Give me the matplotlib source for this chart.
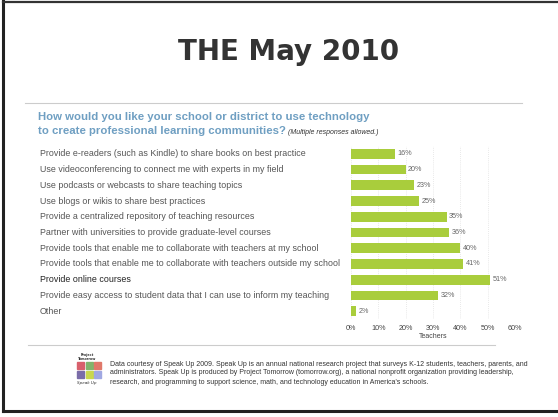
import matplotlib
matplotlib.use('Agg')
import matplotlib.pyplot as plt
import matplotlib.transforms as mtransforms
from matplotlib.patches import Rectangle
from matplotlib.lines import Line2D

# survey answers, top to bottom as on the slide
categories = [
    'Provide e-readers (such as Kindle) to share books on best practice',
    'Use videoconferencing to connect me with experts in my field',
    'Use podcasts or webcasts to share teaching topics',
    'Use blogs or wikis to share best practices',
    'Provide a centralized repository of teaching resources',
    'Partner with universities to provide graduate-level courses',
    'Provide tools that enable me to collaborate with teachers at my school',
    'Provide tools that enable me to collaborate with teachers outside my school',
    'Provide online courses',
    'Provide easy access to student data that I can use to inform my teaching',
    'Other',
]
teachers = [16, 20, 23, 25, 35, 36, 40, 41, 51, 32, 2]
xticks = [0, 10, 20, 30, 40, 50, 60]

W, H = 558, 417
fig = plt.figure(figsize=(W / 100, H / 100), dpi=100)
fig.patch.set_facecolor('white')


def fx(x):
    return x / W


def fy(y):
    return 1 - y / H


# slide frame (scanned look)
fig.add_artist(Line2D([fx(3), fx(3)], [fy(1), fy(411)], color='#222222', lw=2.2))
fig.add_artist(Line2D([fx(3), fx(558)], [fy(1.5), fy(1.5)], color='#333333', lw=1.6))
fig.add_artist(Line2D([fx(3), fx(558)], [fy(411), fy(411)], color='#222222', lw=2.2))

# title
fig.text(fx(289), fy(52), 'THE May 2010', ha='center', va='center',
         fontsize=20, fontweight='bold', color='#333333', family='DejaVu Sans')

# separator lines
fig.add_artist(Line2D([fx(25), fx(522)], [fy(103), fy(103)], color='#cccccc', lw=0.8))
fig.add_artist(Line2D([fx(28), fx(495)], [fy(345), fy(345)], color='#cccccc', lw=0.8))

# question
qcol = '#6f9fc2'
fig.text(fx(38), fy(117), 'How would you like your school or district to use technology',
         ha='left', va='center', fontsize=8.2, fontweight='bold', color=qcol,
         family='Liberation Sans')
fig.text(fx(38), fy(131), 'to create professional learning communities?',
         ha='left', va='center', fontsize=8.2, fontweight='bold', color=qcol,
         family='Liberation Sans')
fig.text(fx(288), fy(132), '(Multiple responses allowed.)', ha='left', va='center',
         fontsize=5, style='italic', color='#333333', family='Liberation Sans')

# bar chart
ax = fig.add_axes([fx(351), fy(319), fx(515) - fx(351), fy(146) - fy(319)])
ypos = list(range(len(categories)))
ax.barh(ypos, teachers, height=0.62, color='#a9cd3c', zorder=3)
ax.set_xlim(0, 60)
ax.set_ylim(len(categories) - 0.5, -0.5)
ax.set_yticks([])
ax.set_xticks(xticks)
ax.set_xticklabels([f'{v}%' for v in xticks], fontsize=5.2, color='#444444',
                   family='Liberation Sans')
ax.tick_params(axis='x', length=0, pad=4)
ax.grid(axis='x', color='#e2e2e2', lw=0.6, ls=(0, (1, 1.5)), zorder=0)
for s in ax.spines.values():
    s.set_visible(False)
ax.set_xlabel('Teachers', fontsize=5, color='#444444', labelpad=1,
              family='Liberation Sans')

for yv, v in zip(ypos, teachers):
    ax.text(v + 0.9, yv, f'{v}%', va='center', ha='left', fontsize=5.2,
            color='#666666', family='Liberation Sans')

trans = mtransforms.blended_transform_factory(fig.transFigure, ax.transData)
for yv, c in zip(ypos, categories):
    col = '#222222' if c == 'Provide online courses' else '#555555'
    ax.text(fx(40), yv, c, transform=trans, ha='left', va='center',
            fontsize=6.4, color=col, family='Liberation Sans', clip_on=False)

# footer logo
logo_cols = [['#d8606c', '#80b46c', '#e0786a'],
             ['#7a6ca8', '#c9d74c', '#a0a8e2']]
for r, row in enumerate(logo_cols):
    for c, col in enumerate(row):
        fig.add_artist(Rectangle((fx(77 + c * 8.5), fy(369 + r * 9)), fx(7), 7 / H,
                                 color=col, transform=fig.transFigure))
fig.text(fx(87), fy(357), 'Project\nTomorrow', ha='center', va='center',
         fontsize=2.4, fontweight='bold', color='#333333', linespacing=0.9)
fig.text(fx(87), fy(383), 'Speak Up', ha='center', va='center',
         fontsize=3, style='italic', color='#333333')

footer = ('Data courtesy of Speak Up 2009. Speak Up is an annual national research project that surveys K-12 students, teachers, parents, and\n'
          'administrators. Speak Up is produced by Project Tomorrow (tomorrow.org), a national nonprofit organization providing leadership,\n'
          'research, and programming to support science, math, and technology education in America\'s schools.')
fig.text(fx(110), fy(373), footer, ha='left', va='center', fontsize=5.05,
         color='#333333', family='Liberation Sans', linespacing=1.4)

fig.savefig('out.png', dpi=100)
